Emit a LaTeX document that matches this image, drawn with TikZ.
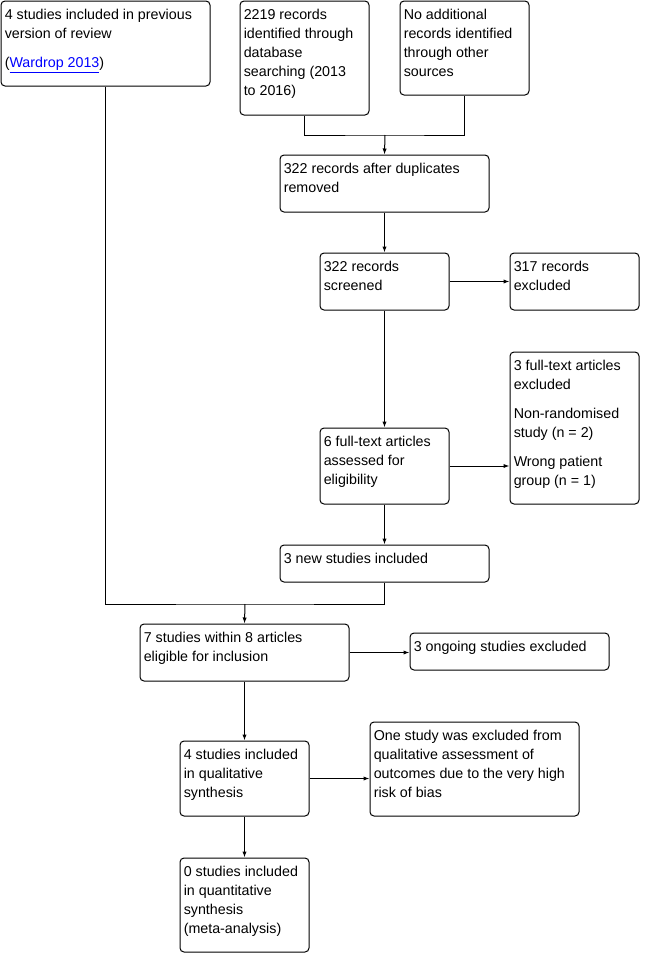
\documentclass[tikz,border=0pt]{standalone}
\usepackage{fontspec}
\setmainfont{Liberation Sans}
\usetikzlibrary{positioning,arrows.meta,calc,fit}
\definecolor{enlace}{HTML}{0000FF}
\definecolor{linea}{HTML}{000000}

\begin{document}
\begin{tikzpicture}[x=0.75pt,y=-0.75pt,
      recuadro/.style={draw=linea,rounded corners=3pt,inner sep=0pt,line width=0.75pt},
      texto/.style={anchor=north west,align=left,inner xsep=3pt,inner ysep=6.6pt,
                    font=\fontsize{10.7}{14.25}\selectfont},
      flecha/.style={-{Latex[length=4.5pt,width=3.2pt]},line width=0.75pt,linea},
      union/.style={line width=0.75pt,linea}]
    \useasboundingbox (0,0) rectangle (644,954);
    % cajas
    \node[recuadro,fit={(1,1) (210,86)},
          label={[texto,anchor=north west]north west:{4 studies included in previous\\version of review\\[7.5pt](\textcolor{enlace}{\underline{Wardrop 2013}})}}] (previa) {};
    \node[recuadro,fit={(240,1) (369,115)},
          label={[texto,anchor=north west]north west:{2219 records\\identified through\\database\\searching (2013\\to 2016)}}] (bases) {};
    \node[recuadro,fit={(400,1) (529,95)},
          label={[texto,anchor=north west]north west:{No additional\\records identified\\through other\\sources}}] (otras) {};
    \node[recuadro,fit={(280,155) (489,212)},
          label={[texto,anchor=north west]north west:{322 records after duplicates\\removed}}] (duplicados) {};
    \node[recuadro,fit={(320,253) (449,310)},
          label={[texto,anchor=north west]north west:{322 records\\screened}}] (cribados) {};
    \node[recuadro,fit={(510,253) (639,310)},
          label={[texto,anchor=north west]north west:{317 records\\excluded}}] (excluidos) {};
    \node[recuadro,fit={(320,428) (449,504)},
          label={[texto,anchor=north west]north west:{6 full-text articles\\assessed for\\eligibility}}] (textocompleto) {};
    \node[recuadro,fit={(510,352) (639,504)},
          label={[texto,anchor=north west]north west:{3 full-text articles\\excluded\\[7.5pt]Non-randomised\\study (n = 2)\\[7.5pt]Wrong patient\\group (n = 1)}}] (descartados) {};
    \node[recuadro,fit={(280,545) (489,582)},
          label={[texto,anchor=north west]north west:{3 new studies included}}] (nuevos) {};
    \node[recuadro,fit={(140,624) (349,681)},
          label={[texto,anchor=north west]north west:{7 studies within 8 articles\\eligible for inclusion}}] (elegibles) {};
    \node[recuadro,fit={(410,633) (609,670)},
          label={[texto,anchor=north west]north west:{3 ongoing studies excluded}}] (encurso) {};
    \node[recuadro,fit={(180,741) (309,816)},
          label={[texto,anchor=north west]north west:{4 studies included\\in qualitative\\synthesis}}] (cualitativa) {};
    \node[recuadro,fit={(370,722) (579,816)},
          label={[texto,anchor=north west]north west:{One study was excluded from\\qualitative assessment of\\outcomes due to the very high\\risk of bias}}] (sesgo) {};
    \node[recuadro,fit={(180,858) (309,952)},
          label={[texto,anchor=north west]north west:{0 studies included\\in quantitative\\synthesis\\(meta-analysis)}}] (cuantitativa) {};
    % puntos de union
    \coordinate (junta1) at (385,135);
    \coordinate (junta2) at (245,604);
    % conectores
    \draw[union] (bases.south) |- (junta1) -| (otras.south);
    \draw[flecha] (junta1) -- (duplicados.north);
    \draw[flecha] (duplicados) -- (cribados);
    \draw[flecha] (cribados.east) -- (cribados.east -| excluidos.west);
    \draw[flecha] (cribados) -- (textocompleto);
    \draw[flecha] (textocompleto.east) -- (textocompleto.east -| descartados.west);
    \draw[flecha] (textocompleto) -- (nuevos);
    \draw[union] (previa.south) |- (junta2) -| (nuevos.south);
    \draw[flecha] (junta2) -- (elegibles.north);
    \draw[flecha] (elegibles.east) -- (elegibles.east -| encurso.west);
    \draw[flecha] (elegibles) -- (cualitativa);
    \draw[flecha] (cualitativa.east) -- (cualitativa.east -| sesgo.west);
    \draw[flecha] (cualitativa) -- (cuantitativa);
\end{tikzpicture}
\end{document}
